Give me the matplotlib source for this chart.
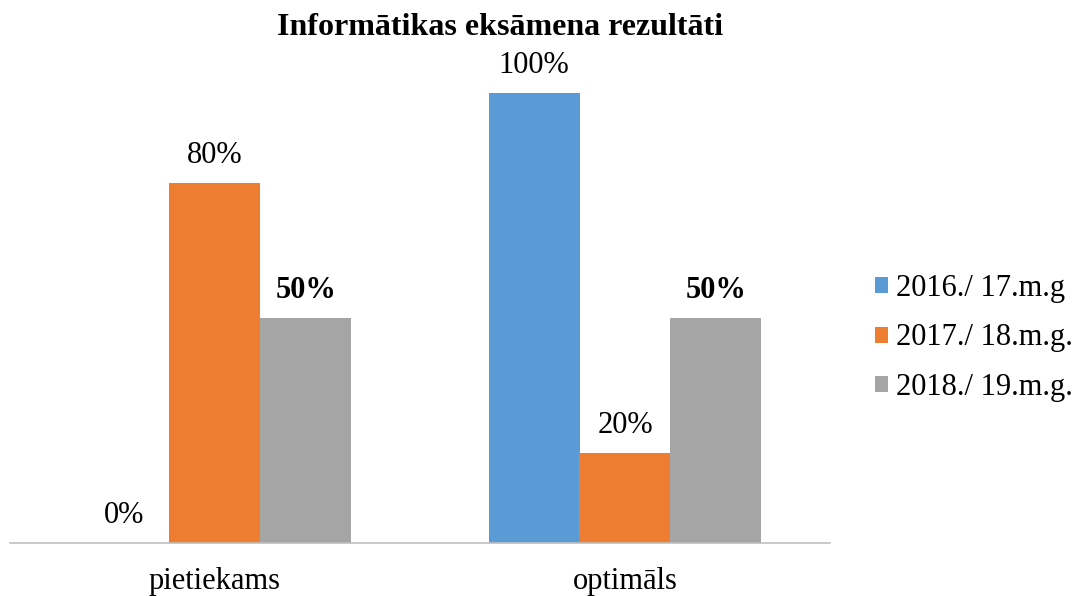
import matplotlib.pyplot as plt
import numpy as np

# ---- DATA ---- #
categories = ['pietiekams', 'optimāls']
series_names = ['2016./ 17.m.g', '2017./ 18.m.g.', '2018./ 19.m.g.']
values_2016 = [0, 100]
values_2017 = [80, 20]
values_2018 = [50, 50]
colors = ['#5B9BD5', '#ED7D31', '#A5A5A5']
bold_labels = [False, False, True]

plt.rcParams['font.family'] = ['Liberation Serif', 'DejaVu Serif']

W, H = 1086, 596
fig = plt.figure(figsize=(W / 100, H / 100), dpi=100)
ax = fig.add_axes([10 / W, (H - 543) / H, 820 / W, 450 / H])

x = np.arange(len(categories))
width = 91 / 410
series = [values_2016, values_2017, values_2018]

for i, (vals, name, col, bld) in enumerate(zip(series, series_names, colors, bold_labels)):
    pos = x + (i - 1) * width
    ax.bar(pos, vals, width=width, color=col, label=name, zorder=2)
    for p, v in zip(pos, vals):
        ax.annotate(f'{v}%', xy=(p, v), xytext=(0, 14.4), textcoords='offset points',
                    ha='center', va='baseline', fontsize=22,
                    fontweight='bold' if bld else 'normal', annotation_clip=False)

# ---- AXIS ---- #
ax.set_xlim(-0.5, 1.5)
ax.set_ylim(0, 100)
for s in ['top', 'right', 'left']:
    ax.spines[s].set_visible(False)
ax.spines['bottom'].set_color('#BFBFBF')
ax.spines['bottom'].set_linewidth(1.2)
ax.set_yticks([])
ax.set_xticks([])
for xi, cat in zip(x, categories):
    ax.annotate(cat, xy=(xi, 0), xycoords=('data', 'axes fraction'),
                xytext=(0, -33), textcoords='offset points',
                ha='center', va='baseline', fontsize=22, annotation_clip=False)

# ---- TITLE ---- #
fig.text(500 / W, 1 - 35 / H, 'Informātikas eksāmena rezultāti',
         ha='center', va='baseline', fontsize=23, fontweight='bold')

# ---- LEGEND ---- #
fig.legend(loc='center left', bbox_to_anchor=(860 / W, 1 - 338 / H),
           frameon=False, fontsize=22, borderpad=0, handlelength=0.43,
           handleheight=0.43, handletextpad=0.26, labelspacing=0.66)

fig.savefig('out.png', dpi=100)
